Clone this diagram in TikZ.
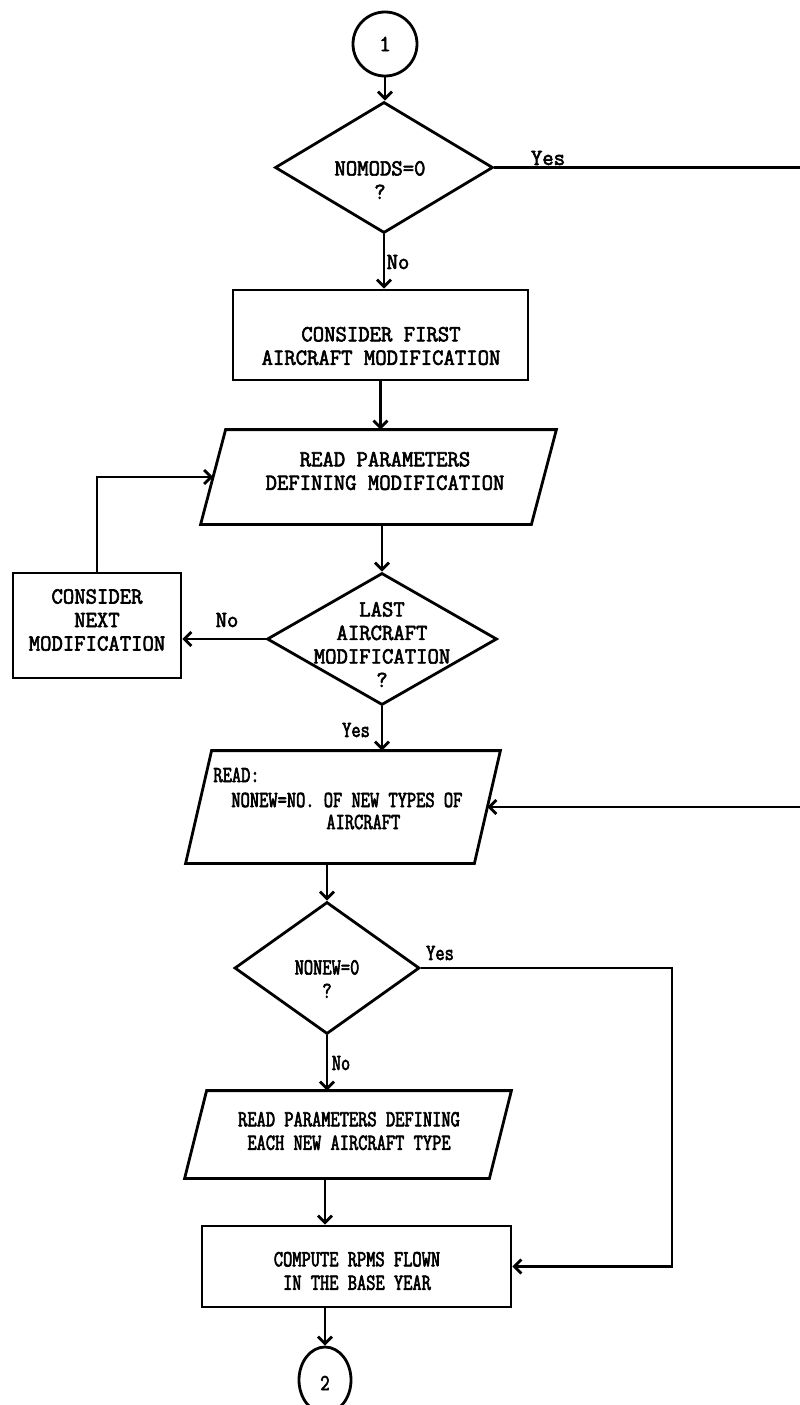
\documentclass[tikz,border=0pt]{standalone}
\usepackage{fontspec}
\newfontfamily\picatype[FakeStretch=0.96, FakeBold=2.6]{Latin Modern Mono}
\newfontfamily\elitetype[FakeStretch=0.78, FakeBold=2.6]{Latin Modern Mono}
\usetikzlibrary{shapes.geometric,arrows.meta,calc}
\begin{document}
\begin{tikzpicture}[x=1pt,y=-1pt,
  line width=2.8pt,
  every node/.style={inner sep=0pt},
  pica/.style={font=\picatype\fontsize{23}{23.5}\selectfont},
  elite/.style={font=\elitetype\fontsize{23}{23.5}\selectfont},
  flow/.style={draw, line width=2.8pt},
  procbox/.style={flow, rectangle},
  decision/.style={flow, diamond},
  iobody/.style={rectangle},
  joint/.style={flow, ellipse},
  txt/.style={align=center},
  arrow/.style={-{Straight Barb[length=7pt,width=14pt]}}
]
\useasboundingbox (0,0) rectangle (800,1405);

% parallelogram drawn round a (hidden) rectangle node; #2 = slant
\newcommand\drawio[2]{%
  \draw ($(#1.south west)$) -- ($(#1.north west)+(#2,0)$) -- (#1.north east)
        -- ($(#1.south east)-(#2,0)$) -- cycle;}

% ---- shapes ----
\node[joint, minimum width=64pt, minimum height=64pt] (c1) at (385,44) {};
\node[decision, minimum width=218pt, minimum height=131pt] (d1) at (384,167.5) {};
\node[procbox, minimum width=295pt, minimum height=90pt] (b1) at (380.5,335) {};
\node[iobody, minimum width=353pt, minimum height=92pt] (p1) at (378.5,477) {};
\drawio{p1}{25}
\node[procbox, minimum width=168pt, minimum height=105pt] (bn) at (97,625.5) {};
\node[decision, minimum width=230pt, minimum height=132pt] (d2) at (382,639) {};
\node[iobody, minimum width=312pt, minimum height=110pt] (p2) at (343,807) {};
\drawio{p2}{26}
\node[decision, minimum width=185pt, minimum height=132pt] (d3) at (327,968) {};
\node[iobody, minimum width=324pt, minimum height=85pt] (p3) at (348,1134.5) {};
\drawio{p3}{22}
\node[procbox, minimum width=309pt, minimum height=81pt] (b3) at (356.5,1266.5) {};
\node[joint, minimum width=52pt, minimum height=66pt] (c2) at (325,1380) {};

% edge midpoints of the slanted sides
\coordinate (p1l) at ($(p1.west)+(12.5,0)$);
\coordinate (p2r) at ($(p2.east)-(13,0)$);

% ---- texts ----
\node[pica] (t1) at (385,44) {1};
\node[pica, txt] (td1) at (380,180) {NOMODS=0\\?};
\node[pica, txt] (tb1) at (381,346) {CONSIDER FIRST\\AIRCRAFT MODIFICATION};
\node[pica, txt] (tp1) at (385,471) {READ PARAMETERS\\DEFINING MODIFICATION};
\node[pica, txt] (tbn) at (97,620) {CONSIDER\\NEXT\\MODIFICATION};
\node[pica, txt] (td2) at (382,644.5) {LAST\\AIRCRAFT\\MODIFICATION\\?};
\node[elite, anchor=west] (tp2a) at (212,775) {READ:};
\node[elite, anchor=west] (tp2b) at (230,800) {NONEW=NO. OF NEW TYPES OF};
\node[elite, anchor=west] (tp2c) at (325,822) {AIRCRAFT};
\node[elite, txt] (td3) at (327,979) {NONEW=0\\?};
\node[elite, txt] (tp3) at (349,1131) {READ PARAMETERS DEFINING\\EACH NEW AIRCRAFT TYPE};
\node[elite, txt] (tb3) at (357,1271) {COMPUTE RPMS FLOWN\\IN THE BASE YEAR};
\node[elite] (t2) at (325,1383) {2};

% ---- branch labels ----
\node[pica] (l1) at (548,158) {Yes};
\node[pica] (l2) at (398,262) {No};
\node[pica] (l3) at (227,620) {No};
\node[elite] (l4) at (356,730) {Yes};
\node[elite] (l5) at (440,953) {Yes};
\node[elite] (l6) at (341,1063) {No};

% ---- off-page ends and bends ----
\coordinate (outA) at (802,167.5);
\coordinate (inB) at (802,807);
\coordinate (bend) at (672,1100);

% ---- connectors ----
\draw[arrow] (c1.south) -- (c1.south |- d1.north);
\draw (d1.east) -- (outA);
\draw[arrow] (d1.south) -- (d1.south |- b1.north);
\draw[arrow] (b1.south) -- (b1.south |- p1.north);
\draw[arrow] (d2.north |- p1.south) -- (d2.north);
\draw[arrow] (d2.west) -- (d2.west -| bn.east);
\draw[arrow] (bn.north) |- (p1l);
\draw[arrow] (d2.south) -- (d2.south |- p2.north);
\draw[arrow] (inB) -- (p2r);
\draw[arrow] (d3.north |- p2.south) -- (d3.north);
\draw[arrow] (d3.east) -| (bend) |- (b3.east);
\draw[arrow] (d3.south) -- (d3.south |- p3.north);
\draw[arrow] (c2.north |- p3.south) -- (c2.north |- b3.north);
\draw[arrow] (c2.north |- b3.south) -- (c2.north);
\end{tikzpicture}
\end{document}
